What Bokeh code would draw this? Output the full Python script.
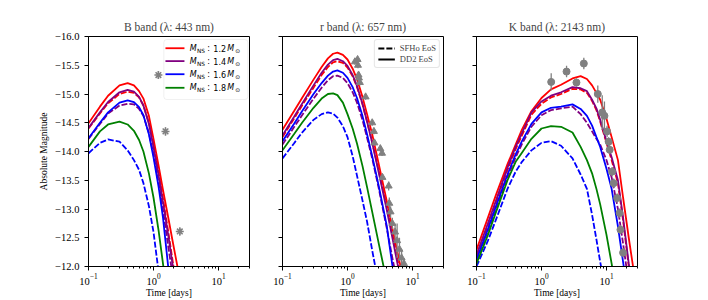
import math
from bokeh.plotting import figure
from bokeh.models import Range1d, FixedTicker, BoxAnnotation, Label, Legend, LegendItem, LogTickFormatter
from bokeh.layouts import row
from bokeh.embed import file_html
from bokeh.resources import INLINE

# ---------------- data ----------------
MASS_LABELS = ["1.2", "1.4", "1.6", "1.8"]
MASS_COLORS = ["red", "purple", "blue", "green"]

# B band
B_T = [0.1, 0.15, 0.2, 0.3, 0.4, 0.5, 0.6, 0.7, 0.85, 1.0, 1.2, 1.4, 1.7, 2.0, 2.4, 2.8]
B_DD2_12 = [-14.49, -14.78, -14.97, -15.15, -15.19, -15.15, -15.05, -14.92, -14.62, -14.22, -13.75, -13.33, -12.83, -12.40, -11.93, -11.5]
B_SFHO_12 = [-14.40, -14.66, -14.84, -15.00, -15.04, -15.02, -14.94, -14.80, -14.50, -14.12, -13.63, -13.18, -12.58, -12.05, -11.45, -11.0]
B_DD2_14 = [-14.41, -14.68, -14.86, -15.03, -15.07, -15.04, -14.95, -14.80, -14.48, -14.08, -13.58, -13.12, -12.52, -11.98, -11.4, -11.0]
B_SFHO_14 = [-14.22, -14.48, -14.66, -14.80, -14.83, -14.82, -14.74, -14.62, -14.32, -13.95, -13.45, -12.98, -12.32, -11.8, -11.2, -10.8]
B_DD2_16 = [-14.23, -14.50, -14.68, -14.85, -14.89, -14.86, -14.77, -14.63, -14.30, -13.90, -13.38, -12.85, -11.95, -11.5, -11.0, -10.6]
B_SFHO_16 = [-13.97, -14.15, -14.21, -14.17, -14.02, -13.85, -13.68, -13.45, -13.05, -12.60, -11.90, -11.3, -10.8, -10.5, -10.3, -10.0]
B_DD2_18 = [-14.08, -14.35, -14.47, -14.52, -14.47, -14.36, -14.20, -14.00, -13.62, -13.20, -12.62, -12.05, -11.3, -10.8, -10.4, -10.0]
B_OBS_T = [1.19, 1.53, 2.54]
B_OBS_M = [-15.33, -14.35, -12.61]
B_OBS_E = [0.07, 0.07, 0.07]

# r band
R_T = [0.1, 0.15, 0.2, 0.3, 0.4, 0.5, 0.6, 0.7, 0.85, 1.0, 1.2, 1.4, 1.7, 2.0, 2.4, 3.0, 4.0, 5.0, 6.0, 7.0, 8.0]
R_DD2_12 = [-14.38, -14.70, -14.93, -15.25, -15.47, -15.62, -15.70, -15.72, -15.68, -15.60, -15.44, -15.26, -14.95, -14.65, -14.30, -13.80, -13.15, -12.62, -12.20, -11.85, -11.5]
R_SFHO_12 = [-14.25, -14.57, -14.80, -15.11, -15.33, -15.47, -15.55, -15.57, -15.54, -15.46, -15.31, -15.12, -14.82, -14.52, -14.16, -13.68, -13.05, -12.52, -12.07, -11.7, -11.35]
R_DD2_14 = [-14.28, -14.60, -14.83, -15.15, -15.37, -15.51, -15.59, -15.61, -15.57, -15.49, -15.33, -15.14, -14.83, -14.52, -14.15, -13.65, -13.00, -12.45, -12.00, -11.65, -11.3]
R_SFHO_14 = [-14.12, -14.42, -14.63, -14.92, -15.11, -15.24, -15.31, -15.32, -15.28, -15.19, -15.03, -14.85, -14.55, -14.24, -13.88, -13.38, -12.68, -12.10, -11.65, -11.3, -11.0]
R_DD2_16 = [-14.18, -14.48, -14.70, -15.00, -15.19, -15.32, -15.39, -15.41, -15.37, -15.28, -15.12, -14.93, -14.62, -14.30, -13.92, -13.42, -12.72, -11.95, -11.6, -11.3, -11.0]
R_SFHO_16 = [-13.88, -14.14, -14.33, -14.55, -14.65, -14.68, -14.66, -14.59, -14.44, -14.25, -13.92, -13.58, -13.15, -12.78, -12.28, -11.7, -11.0, -10.6, -10.3, -10.0, -9.8]
R_DD2_18 = [-14.02, -14.30, -14.50, -14.76, -14.92, -15.00, -15.01, -14.98, -14.85, -14.65, -14.40, -14.14, -13.75, -13.38, -12.95, -12.42, -11.75, -11.2, -10.8, -10.5, -10.2]
R_OBS_T = [1.30, 1.43, 1.45, 1.48, 1.50, 1.55, 1.90, 2.40, 2.55, 2.60, 3.20, 3.40, 3.45, 4.30, 4.40, 4.60, 4.90, 5.40, 5.80, 6.30, 6.80, 7.40]
R_OBS_M = [-15.56, -15.60, -15.50, -15.33, -15.28, -15.20, -14.95, -14.50, -14.35, -14.15, -14.05, -13.97, -13.55, -13.40, -13.10, -12.95, -12.75, -12.60, -12.45, -12.30, -12.15, -12.05]
R_OBS_E = [0.05, 0.05, 0.05, 0.05, 0.05, 0.05, 0.05, 0.05, 0.05, 0.05, 0.05, 0.05, 0.05, 0.08, 0.1, 0.1, 0.1, 0.15, 0.3, 0.2, 0.15, 0.1]

# K band
K_T = [0.1, 0.15, 0.2, 0.3, 0.4, 0.5, 0.7, 1.0, 1.4, 2.0, 3.0, 4.0, 5.0, 6.0, 7.0, 8.0, 10.0, 12.0, 15.0, 18.0, 22.0, 26.0, 30.0]
K_DD2_12 = [-12.29, -12.85, -13.25, -13.78, -14.12, -14.38, -14.70, -14.93, -15.08, -15.16, -15.27, -15.31, -15.26, -15.15, -15.02, -14.90, -14.57, -14.25, -13.85, -13.20, -12.50, -11.95, -11.5]
K_SFHO_12 = [-12.18, -12.72, -13.12, -13.68, -14.04, -14.28, -14.64, -14.83, -14.94, -15.00, -15.09, -15.08, -15.02, -14.88, -14.72, -14.52, -14.15, -13.85, -13.45, -12.80, -12.0, -11.4, -11.0]
K_DD2_14 = [-12.20, -12.75, -13.15, -13.72, -14.08, -14.32, -14.68, -14.87, -14.97, -15.03, -15.12, -15.10, -15.05, -14.90, -14.75, -14.55, -14.18, -13.90, -13.50, -12.85, -12.05, -11.5, -11.0]
K_SFHO_14 = [-12.10, -12.62, -13.00, -13.55, -13.90, -14.13, -14.43, -14.63, -14.72, -14.75, -14.78, -14.65, -14.50, -14.35, -14.22, -14.12, -13.85, -13.55, -13.00, -12.40, -11.70, -11.2, -10.8]
K_DD2_16 = [-12.12, -12.65, -13.05, -13.60, -13.95, -14.18, -14.48, -14.68, -14.76, -14.78, -14.82, -14.74, -14.62, -14.45, -14.25, -14.08, -13.70, -13.35, -12.70, -12.08, -11.4, -11.0, -10.6]
K_SFHO_16 = [-12.00, -12.45, -12.82, -13.35, -13.65, -13.82, -14.02, -14.15, -14.18, -14.10, -13.88, -13.60, -13.35, -12.90, -12.47, -12.08, -11.5, -11.0, -10.6, -10.3, -10.0, -9.8, -9.6]
K_DD2_18 = [-12.05, -12.55, -12.95, -13.50, -13.82, -13.98, -14.22, -14.40, -14.44, -14.43, -14.33, -14.08, -13.85, -13.62, -13.35, -13.08, -12.55, -12.05, -11.4, -11.0, -10.6, -10.3, -10.0]
K_OBS_T = [1.41, 2.43, 3.45, 4.48, 7.35, 8.6, 9.3, 10.2, 10.8, 11.2, 12.2, 12.9, 14.6, 15.9, 16.4, 18.0]
K_OBS_M = [-15.21, -15.39, -15.20, -15.53, -15.00, -14.68, -14.62, -14.35, -14.17, -14.03, -13.65, -13.45, -13.19, -12.93, -12.64, -12.24]
K_OBS_E = [0.15, 0.10, 0.07, 0.10, 0.15, 0.30, 0.25, 0.10, 0.08, 0.08, 0.08, 0.08, 0.08, 0.08, 0.08, 0.08]

TITLES = ["B band (\u03bb: 443 nm)", "r band (\u03bb: 657 nm)", "K band (\u03bb: 2143 nm)"]
X_TICKS = [0.1, 1.0, 10.0]
X_MINOR = [0.2, 0.3, 0.4, 0.5, 0.6, 0.7, 0.8, 0.9, 2, 3, 4, 5, 6, 7, 8, 9, 20, 30]
Y_TICKS = [-16.0, -15.5, -15.0, -14.5, -14.0, -13.5, -13.0, -12.5, -12.0]
X_LIM = (0.1, 30.0)
Y_LIM = (-12.0, -16.0)

SERIF = "Liberation Serif"
MATH = "DejaVu Sans"
DASH = "6 2"
LW = 1.8
OBS_COLOR = "grey"


def fx(frac):
    lo, hi = math.log10(X_LIM[0]), math.log10(X_LIM[1])
    return 10 ** (lo + frac * (hi - lo))


def fy(frac):
    return Y_LIM[0] + frac * (Y_LIM[1] - Y_LIM[0])


def make_fig(title, width, left, right, ylabels):
    p = figure(width=width, height=300, x_axis_type="log",
               x_range=Range1d(*X_LIM), y_range=Range1d(*Y_LIM),
               output_backend="svg", toolbar_location=None,
               min_border_left=left, min_border_right=right,
               min_border_top=36, min_border_bottom=33, title=title)
    p.title.align = "center"
    p.title.text_font = SERIF
    p.title.text_font_size = "11.5px"
    p.title.text_font_style = "normal"
    p.title.standoff = 8
    p.grid.visible = False
    p.outline_line_color = "black"
    p.outline_line_width = 1
    p.outline_line_alpha = 1
    p.background_fill_color = "white"
    p.border_fill_color = "white"

    xa = p.xaxis[0]
    xa.ticker = FixedTicker(ticks=X_TICKS, minor_ticks=X_MINOR)
    xa.formatter = LogTickFormatter(min_exponent=0)
    xa.axis_label = "Time [days]"
    ya = p.yaxis[0]
    ya.ticker = FixedTicker(ticks=Y_TICKS, minor_ticks=[])
    if ylabels:
        ya.major_label_overrides = {t: f"{t:.1f}".replace("-", "\u2212") for t in Y_TICKS}
        ya.axis_label = "Absolute Magnitude"
    else:
        ya.major_label_overrides = {t: "" for t in Y_TICKS}
    for ax in (xa, ya):
        ax.axis_line_color = "black"
        ax.axis_line_width = 1
        ax.major_tick_line_color = "black"
        ax.minor_tick_line_color = "black"
        ax.major_tick_in = 0
        ax.major_tick_out = 4
        ax.minor_tick_in = 0
        ax.minor_tick_out = 2
        ax.major_label_text_font = SERIF
        ax.major_label_text_font_size = "10.5px"
        ax.major_label_text_color = "black"
        ax.axis_label_text_font = SERIF
        ax.axis_label_text_font_size = "9.5px"
        ax.axis_label_text_font_style = "normal"
        ax.axis_label_text_color = "black"
    xa.major_label_standoff = 3
    xa.axis_label_standoff = 0
    ya.major_label_standoff = 5
    ya.axis_label_standoff = 3
    return p


def draw_models(p, t, curves):
    for vals, color, dashed in curves:
        p.line(t, vals, line_color=color, line_width=LW,
               line_dash=DASH if dashed else "solid")


def draw_errors(p, t, m, e):
    p.segment(x0=t, x1=t, y0=[a - b for a, b in zip(m, e)],
              y1=[a + b for a, b in zip(m, e)], line_color=OBS_COLOR, line_width=1.3)


# ---------------- B band ----------------
p1 = make_fig(TITLES[0], 250, 88, 1, True)
draw_models(p1, B_T, [(B_DD2_12, "red", False), (B_SFHO_12, "red", True),
                      (B_DD2_14, "purple", False), (B_SFHO_14, "purple", True),
                      (B_DD2_16, "blue", False), (B_SFHO_16, "blue", True),
                      (B_DD2_18, "green", False)])
draw_errors(p1, B_OBS_T, B_OBS_M, B_OBS_E)
p1.scatter(B_OBS_T, B_OBS_M, marker="asterisk", size=8, line_color=OBS_COLOR, line_width=1.5)

# manual legend (mass)
p1.add_layout(BoxAnnotation(left=fx(0.468), right=fx(0.990), top=fy(0.987), bottom=fy(0.726),
                            fill_color="white", fill_alpha=0.8, line_color="#cccccc",
                            line_width=1, border_radius=3))
rows = [0.949, 0.893, 0.836, 0.777]
for r, col, lab in zip(rows, MASS_COLORS, MASS_LABELS):
    seg = p1.segment(x0=[fx(0.478)], x1=[fx(0.596)], y0=[fy(r)], y1=[fy(r)],
                     line_color=col, line_width=LW)
    seg.level = "overlay"
    x0 = fx(0.629)
    pieces = [("M", 0, 0, "8px", "italic"), ("NS", 7.2, -2.5, "5.8px", "normal"),
              (":", 17.4, 0, "8px", "normal"), (lab, 23.6, 0, "8px", "normal"),
              ("M", 37.6, 0, "8px", "italic"), ("\u2299", 45.6, -2.5, "5.8px", "normal")]
    for txt, dx, dy, size, style in pieces:
        p1.add_layout(Label(x=x0, y=fy(r), text=txt, x_offset=dx, y_offset=dy,
                            text_font=MATH, text_font_size=size, text_font_style=style,
                            text_baseline="middle", text_align="left", text_color="black"))

# ---------------- r band ----------------
p2 = make_fig(TITLES[1], 194, 32, 1, False)
draw_models(p2, R_T, [(R_DD2_12, "red", False), (R_SFHO_12, "red", True),
                      (R_DD2_14, "purple", False), (R_SFHO_14, "purple", True),
                      (R_DD2_16, "blue", False), (R_SFHO_16, "blue", True),
                      (R_DD2_18, "green", False)])
draw_errors(p2, R_OBS_T, R_OBS_M, R_OBS_E)
p2.scatter(R_OBS_T, R_OBS_M, marker="triangle", size=7, fill_color=OBS_COLOR, line_color=OBS_COLOR)

NAN = float("nan")
r_sf = p2.line(x=[NAN, NAN], y=[NAN, NAN], line_color="black", line_width=LW, line_dash=DASH)
r_dd = p2.line(x=[NAN, NAN], y=[NAN, NAN], line_color="black", line_width=LW)
leg2 = Legend(items=[LegendItem(label="SFHo EoS", renderers=[r_sf]),
                     LegendItem(label="DD2 EoS", renderers=[r_dd])],
              location="top_right", margin=3, padding=3, spacing=1,
              glyph_width=17, glyph_height=10, label_height=10, label_standoff=5,
              label_text_font=SERIF, label_text_font_size="8.5px",
              border_line_color="#cccccc", border_line_width=1,
              background_fill_alpha=0.8, border_radius=3)
p2.add_layout(leg2)

# ---------------- K band ----------------
p3 = make_fig(TITLES[2], 203, 32, 10, False)
draw_models(p3, K_T, [(K_DD2_12, "red", False), (K_SFHO_12, "red", True),
                      (K_DD2_14, "purple", False), (K_SFHO_14, "purple", True),
                      (K_DD2_16, "blue", False), (K_SFHO_16, "blue", True),
                      (K_DD2_18, "green", False)])
draw_errors(p3, K_OBS_T, K_OBS_M, K_OBS_E)
p3.scatter(K_OBS_T, K_OBS_M, marker="circle", size=7, fill_color=OBS_COLOR, line_color=OBS_COLOR)

layout = row(p1, p2, p3)
open("out.html", "w").write(file_html(layout, INLINE))
